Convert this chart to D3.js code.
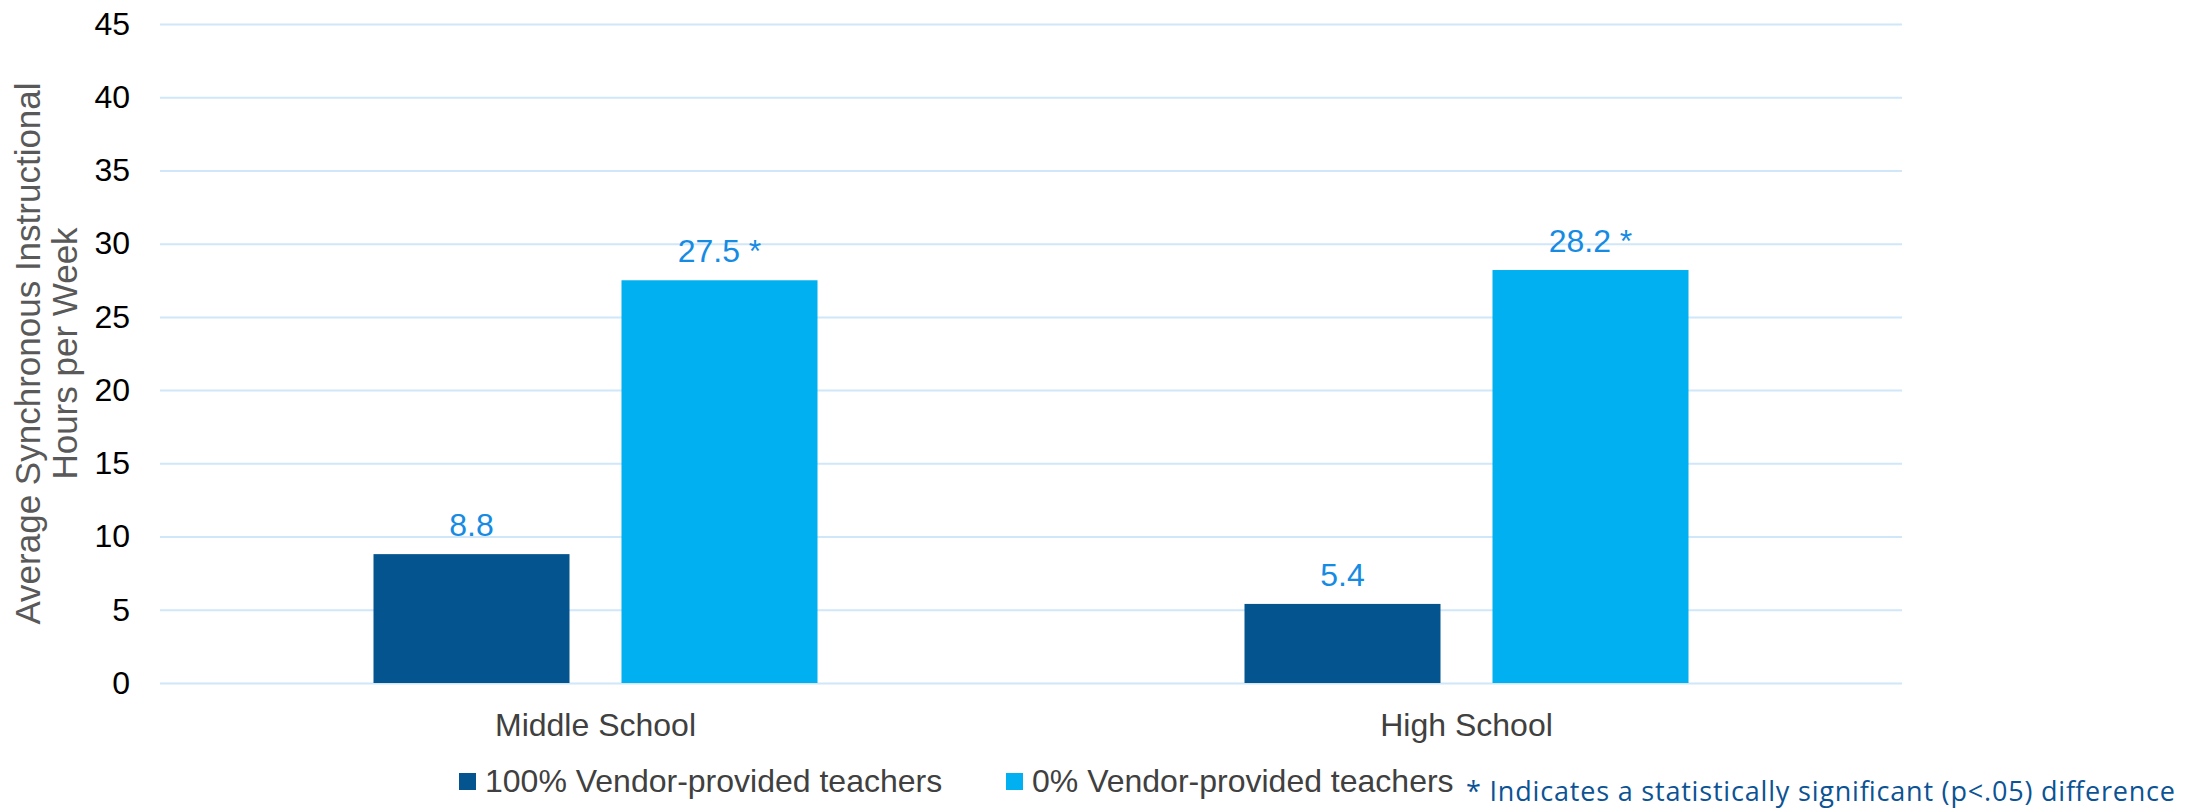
<!DOCTYPE html>
<html><head><meta charset="utf-8">
<script src="https://cdn.jsdelivr.net/npm/d3@7"></script>
<style>
body{margin:0;background:#fff;}
svg{display:block;}
</style></head>
<body>
<svg id="chart" width="2185" height="812"></svg>
<script>
const categories = ["Middle School", "High School"];
const seriesNames = ["100% Vendor-provided teachers", "0% Vendor-provided teachers"];
const vendor100 = [8.8, 5.4];
const vendor0 = [27.5, 28.2];
const labels100 = ["8.8", "5.4"];
const labels0 = ["27.5 *", "28.2 *"];
const yTicks = [0, 5, 10, 15, 20, 25, 30, 35, 40, 45];
const yTitle = ["Average Synchronous Instructional", "Hours per Week"];
const footnote = "* Indicates a statistically significant (p<.05) difference";
const colors = ["#03548F", "#00B0F0"];

const svg = d3.select("#chart");
const W = 2185, H = 812;
const m = {left:160, right:283, top:24, bottom:129};
const plotW = W - m.left - m.right, plotH = H - m.top - m.bottom;
const FONT = "'Liberation Sans', Arial, sans-serif";

const x0 = d3.scaleBand().domain(categories).range([m.left, m.left + plotW]).paddingInner(0).paddingOuter(0);
const y = d3.scaleLinear().domain([0, 45]).range([m.top + plotH, m.top]);

// gridlines
const yAxis = d3.axisLeft(y).tickValues(yTicks).tickSize(-plotW).tickPadding(30);
const gy = svg.append("g").attr("transform", `translate(${m.left},0)`).call(yAxis);
gy.select(".domain").remove();
gy.selectAll(".tick line").attr("stroke", "#CFE7F9").attr("stroke-width", 2);
gy.selectAll(".tick text").attr("font-family", FONT).attr("font-size", 32).attr("fill", "#000");

// bars
const barW = 196, gap = 52;
const data = categories.map((c, i) => ({cat: c, vals: [vendor100[i], vendor0[i]], labs: [labels100[i], labels0[i]]}));
const x1 = d3.scaleBand().domain([0, 1]).range([0, barW * 2 + gap]).paddingInner(gap / (barW + gap)).paddingOuter(0);

const groups = svg.append("g").selectAll("g").data(data).join("g")
  .attr("transform", d => `translate(${x0(d.cat) + x0.bandwidth() / 2 - (barW * 2 + gap) / 2},0)`);

groups.selectAll("rect").data(d => d.vals.map((v, j) => ({v, j})))
  .join("rect")
  .attr("x", d => x1(d.j)).attr("width", x1.bandwidth())
  .attr("y", d => y(d.v)).attr("height", d => y(0) - y(d.v))
  .attr("fill", d => colors[d.j]);

groups.selectAll("text.lbl").data(d => d.vals.map((v, j) => ({v, j, t: d.labs[j]})))
  .join("text").attr("class", "lbl")
  .attr("x", d => x1(d.j) + x1.bandwidth() / 2)
  .attr("y", d => y(d.v) - 18)
  .attr("text-anchor", "middle")
  .attr("font-family", FONT).attr("font-size", 32).attr("fill", "#168BE3")
  .text(d => d.t);

// category labels
const xAxis = d3.axisBottom(x0).tickSize(0).tickPadding(0);
const gx = svg.append("g").attr("transform", `translate(0,${y(0)})`).call(xAxis);
gx.select(".domain").remove();
gx.selectAll(".tick text").attr("font-family", FONT).attr("font-size", 32).attr("fill", "#404040")
  .attr("dy", null).attr("y", 53);

// y title
const yt = svg.append("text")
  .attr("transform", `translate(0,${y(22.5)}) rotate(-90)`)
  .attr("text-anchor", "middle").attr("font-family", FONT).attr("font-size", 35).attr("fill", "#595959");
yt.selectAll("tspan").data(yTitle).join("tspan")
  .attr("x", 0).attr("y", (d, i) => 40 + i * 37).text(d => d);

// legend
const legX = [459, 1006];
const leg = svg.append("g").selectAll("g").data(seriesNames).join("g")
  .attr("transform", (d, i) => `translate(${legX[i]},773)`);
leg.append("rect").attr("width", 17).attr("height", 17).attr("fill", (d, i) => colors[i]);
leg.append("text").attr("x", 26).attr("y", 19).attr("font-family", FONT).attr("font-size", 32).attr("fill", "#404040").text(d => d);

// footnote
svg.append("text").attr("x", 1466).attr("y", 801)
  .attr("font-family", "'Open Sans', 'Noto Sans', sans-serif").attr("font-size", 27).attr("fill", "#0B5394")
  .attr("textLength", 709).attr("lengthAdjust", "spacing")
  .text(footnote);
</script>
</body></html>
